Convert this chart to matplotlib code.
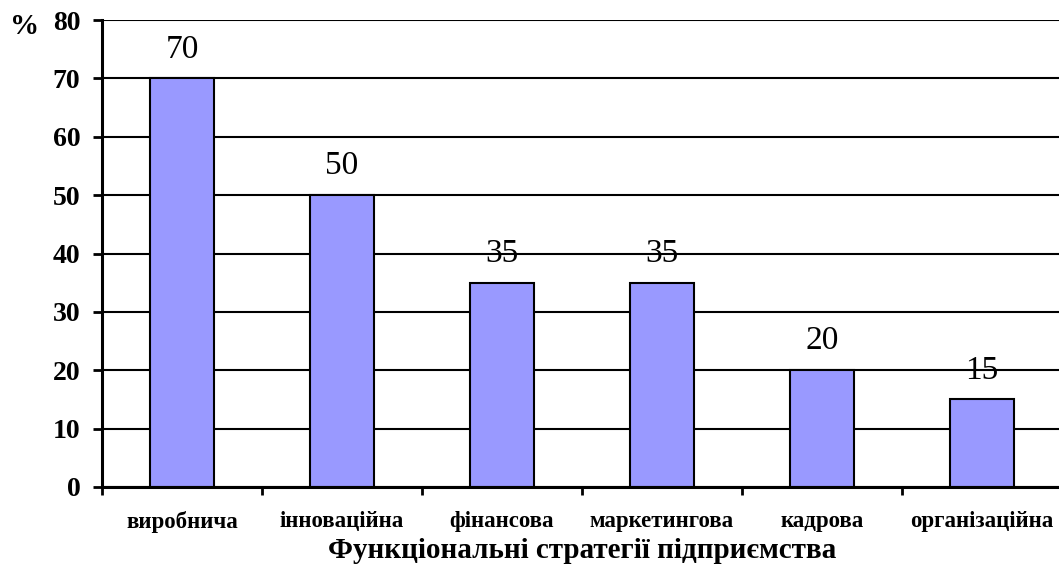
import matplotlib
matplotlib.use("Agg")
import matplotlib.pyplot as plt
import numpy as np

categories = ["виробнича", "інноваційна", "фінансова", "маркетингова", "кадрова", "організаційна"]
values = [70, 50, 35, 35, 20, 15]
yticks = [0, 10, 20, 30, 40, 50, 60, 70, 80]

plt.rcParams['font.family'] = ['Liberation Serif', 'DejaVu Serif']

fig = plt.figure(figsize=(10.59, 5.65), dpi=100)
ax = fig.add_axes([102/1059, 1 - 487/565, 960/1059, 467/565])

x = np.arange(len(categories)) + 0.5
ax.bar(x, values, width=0.4, color="#9999FF", edgecolor="black", linewidth=1.5, zorder=2)

ax.set_xlim(0, len(categories))
ax.set_ylim(0, 80)
ax.set_yticks(yticks)
ax.set_yticklabels([str(v) for v in yticks], fontsize=20, fontweight="bold")
ax.yaxis.grid(True, color="black", linewidth=1.5, zorder=1)
ax.set_axisbelow(True)

ax.set_xticks(np.arange(len(categories) + 1))
ax.set_xticklabels([])
ax.set_xticks(x, minor=True)
ax.set_xticklabels(categories, minor=True, fontsize=16.5, fontweight="bold")
ax.tick_params(axis="x", which="minor", length=0, pad=17)
ax.tick_params(axis="x", which="major", length=6, width=2, direction="out")
ax.tick_params(axis="y", length=6.5, width=2, pad=9)

for s in ["top", "right"]:
    ax.spines[s].set_visible(False)
for s in ["left", "bottom"]:
    ax.spines[s].set_linewidth(2.2)

for xi, v in zip(x, values):
    ax.annotate(str(v), (xi, v), xytext=(0, 15), textcoords="offset points",
                ha="center", va="baseline", fontsize=24, zorder=5)

fig.text(582/1059, 1 - 558/565, "Функціональні стратегії підприємства",
         fontsize=21, fontweight="bold", ha="center", va="baseline")
fig.text(25/1059, 1 - 26/565, "%", fontsize=21, fontweight="bold", ha="center", va="center")

fig.savefig("out.png", dpi=100)
